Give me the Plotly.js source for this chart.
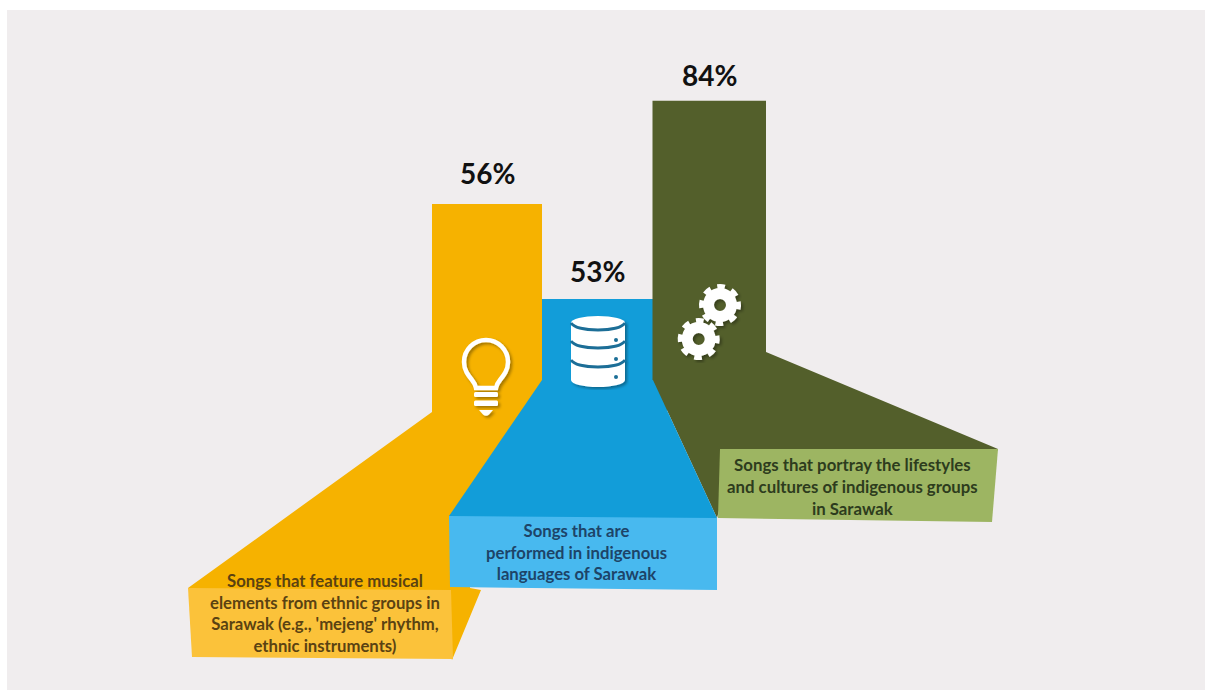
<!DOCTYPE html>
<html>
<head>
<meta charset="utf-8">
<script src="https://cdn.plot.ly/plotly-3.0.1.min.js"></script>
<style>html,body{margin:0;padding:0;background:#fff}#chart{width:1205px;height:690px}</style>
</head>
<body>
<div id="chart"></div>
<script>
// Share of songs with each indigenous element
const categories = [
  "Songs that feature musical<br>elements from ethnic groups in<br>Sarawak (e.g., 'mejeng' rhythm,<br>ethnic instruments)",
  "Songs that are<br>performed in indigenous<br>languages of Sarawak",
  "Songs that portray the lifestyles<br>and cultures of indigenous groups<br>in Sarawak"
];
const percentages = [56, 53, 84];

// Each column floats on its own base so the heights stay on one percent scale
const columnBases = [76.09, 53.25, 76.09];
const columnCentres = [487, 597.5, 709.25];
const columnWidths = [110, 111, 113.5];

const columnColours = ["#F6B200", "#129DD9", "#535F2B"];
const panelColours = ["#FBC23A", "#48B9EF", "#9DB562"];
const captionColours = ["#5A4212", "#1D4468", "#2D3C1D"];

// Flared ribbons below each column and the caption cards they end in (axis units);
// the ribbons run a little way under the cards so no seam shows
const amberFlapX = [432, 542, 470, 470, 481, 452, 440, 188, 432];
const amberFlapY = [84.24, 84.24, 40, 27.72, 27.17, 8.15, 20, 27.72, 75.54];
const blueFlapX = [542, 653, 717, 710, 455, 449];
const blueFlapY = [84.24, 84.24, 46.74, 40, 40, 47.28];
const oliveFlapX = [653, 766, 998, 990, 730, 717, 653];
const oliveFlapY = [91.85, 91.85, 65.49, 60, 60, 46.74, 84.24];
const amberCardX = [188, 451, 453, 192];
const amberCardY = [27.72, 27.17, 8.42, 8.97];
const blueCardX = [449, 717, 717, 450];
const blueCardY = [47.28, 46.74, 27.17, 27.99];
const greenCardX = [720, 998, 992, 718];
const greenCardY = [65.49, 65.49, 45.65, 46.74];

const captionX = [324.5, 576, 852];
const captionY = [20.9, 37.5, 55.2];
const captionSizes = [16.7, 16.7, 16.8];
const valueLift = [31, 28, 26];

const UNITS_PER_PIXEL = 1 / 3.68;
const AXIS_TOP = 680 * UNITS_PER_PIXEL;

function flap(x, y, fill) {
  return {type: "scatter", mode: "none", x: x, y: y, fill: "toself", fillcolor: fill, hoverinfo: "skip", showlegend: false};
}

const traces = [
  {
    type: "bar", x: columnCentres, y: percentages, base: columnBases, width: columnWidths,
    marker: {color: columnColours, line: {width: 0}}, hoverinfo: "skip", showlegend: false
  },
  flap(oliveFlapX, oliveFlapY, columnColours[2]),
  flap(amberFlapX, amberFlapY, columnColours[0]),
  flap(blueFlapX, blueFlapY, columnColours[1]),
  flap(amberCardX, amberCardY, panelColours[0]),
  flap(blueCardX, blueCardY, panelColours[1]),
  flap(greenCardX, greenCardY, panelColours[2])
];

const font = "Lato, 'Open Sans', sans-serif";

const annotations = [];
percentages.forEach(function (p, i) {
  annotations.push({
    x: columnCentres[i], y: columnBases[i] + p, yshift: valueLift[i], xref: "x", yref: "y",
    text: "<b>" + p + "%</b>", showarrow: false, yanchor: "middle",
    font: {family: font, size: 28, color: "#111111"}
  });
  annotations.push({
    x: captionX[i], y: captionY[i], xref: "x", yref: "y",
    text: "<b>" + categories[i] + "</b>", showarrow: false, align: "center", yanchor: "middle",
    font: {family: font, size: captionSizes[i], color: captionColours[i]}
  });
});

// Icons carry a soft shadow to lift them off the columns
function svgIcon(width, height, body) {
  const svg = '<svg xmlns="http://www.w3.org/2000/svg" width="' + width + '" height="' + height +
    '" viewBox="0 0 ' + width + ' ' + height + '"><defs><filter id="s" x="-20%" y="-20%" width="150%" height="150%">' +
    '<feDropShadow dx="2" dy="2" stdDeviation="1.500" flood-color="#000" flood-opacity="0.35"/></filter></defs>' +
    '<g filter="url(#s)">' + body + '</g></svg>';
  return "data:image/svg+xml;base64," + btoa(svg);
}

const bulb =
  '<path d="M26 4a22 22 0 0 1 22 22c0 8-4 13-8 18-2.500 3-3.500 5-4 8h-20c-.5-3-1.500-5-4-8-4-5-8-10-8-18a22 22 0 0 1 22-22z" fill="none" stroke="#fff" stroke-width="4.500"/>' +
  '<rect x="14" y="56" width="24" height="5" rx="1.500" fill="#fff"/>' +
  '<rect x="14" y="64.500" width="24" height="5.500" rx="1.500" fill="#fff"/>' +
  '<path d="M19 74h14l-4 4.500a4 4 0 0 1-6 0z" fill="#fff"/>';

function bandCurve(lowest) {
  return '<path d="M2 ' + (lowest - 7) + 'c3 4.500 14 7 27 7s24-2.500 27-7" fill="none" stroke="#1C6E97" stroke-width="2.800"/>';
}
const database =
  '<path d="M2 9a27 7 0 0 1 54 0V66a27 7 0 0 1-54 0z" fill="#fff"/>' +
  bandCurve(16) + bandCurve(34) + bandCurve(53) +
  '<circle cx="47" cy="26" r="2" fill="#1C6E97"/><circle cx="47" cy="45" r="2" fill="#1C6E97"/><circle cx="47" cy="63" r="2" fill="#1C6E97"/>';

function gear(cx, cy) {
  return '<circle cx="' + cx + '" cy="' + cy + '" r="11.500" fill="none" stroke="#fff" stroke-width="11"/>' +
    '<circle cx="' + cx + '" cy="' + cy + '" r="18.500" fill="none" stroke="#fff" stroke-width="5" stroke-dasharray="7.500 7.030" transform="rotate(-10 ' + cx + ' ' + cy + ')"/>';
}
const gears = gear(44, 24) + gear(22.7, 58);

function iconImage(source, left, top, width, height) {
  return {
    source: source, xref: "x", yref: "y", x: left, y: (690 - top) * UNITS_PER_PIXEL,
    sizex: width, sizey: height * UNITS_PER_PIXEL, sizing: "stretch", xanchor: "left", yanchor: "top", layer: "above"
  };
}

const layout = {
  width: 1205, height: 690,
  margin: {l: 7, r: 0, t: 10, b: 0, pad: 0},
  paper_bgcolor: "#FFFFFF",
  plot_bgcolor: "#F0EDEE",
  barmode: "overlay",
  showlegend: false,
  xaxis: {range: [7, 1205], visible: false, fixedrange: true},
  yaxis: {range: [0, AXIS_TOP], visible: false, fixedrange: true},
  annotations: annotations,
  images: [
    iconImage(svgIcon(58, 84, bulb), 460, 336, 58, 84),
    iconImage(svgIcon(60, 76, database), 569, 314, 60, 76),
    iconImage(svgIcon(70, 82, gears), 676, 281, 70, 82)
  ]
};

Plotly.newPlot("chart", traces, layout, {displayModeBar: false, staticPlot: true});
</script>
</body>
</html>
